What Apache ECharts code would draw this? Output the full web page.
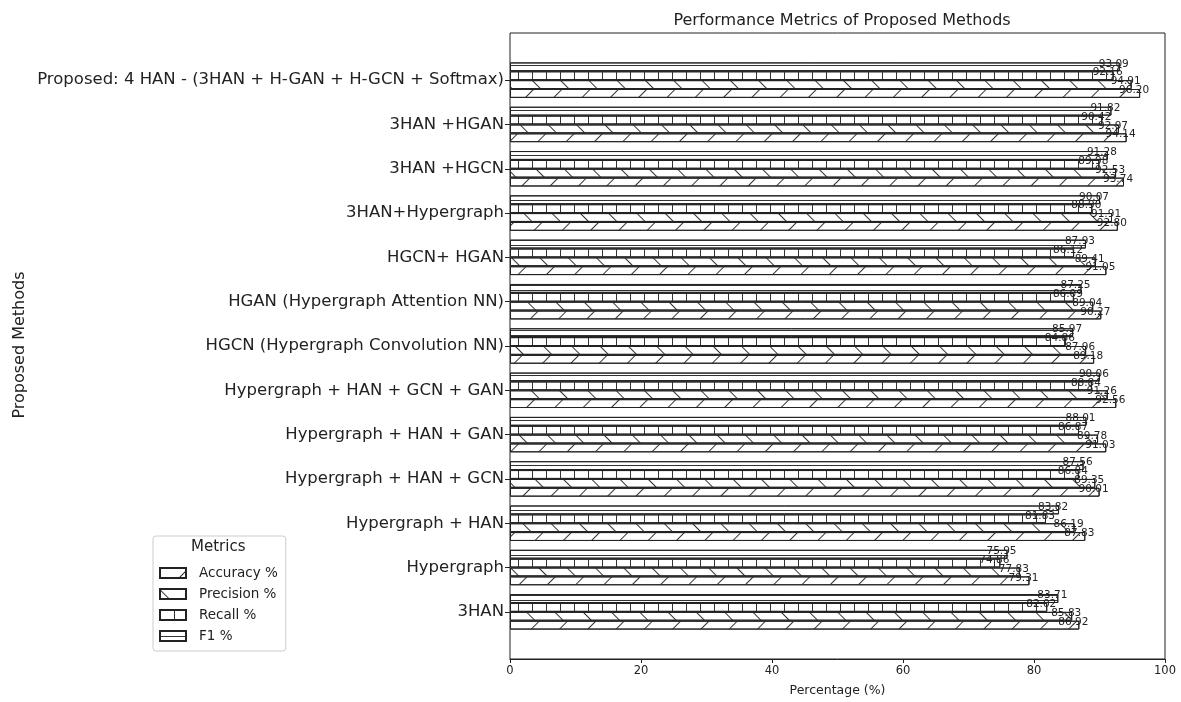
<!DOCTYPE html>
<html>
<head>
<meta charset="utf-8">
<script src="https://cdn.jsdelivr.net/npm/echarts@6/dist/echarts.min.js"></script>
<style>
  html, body { margin: 0; padding: 0; background: #fff; }
  #main { width: 1181px; height: 702px; }
</style>
</head>
<body>
<div id="main"></div>
<script>
// categories, bottom to top as drawn
const methods = [
  "3HAN",
  "Hypergraph",
  "Hypergraph + HAN",
  "Hypergraph + HAN + GCN",
  "Hypergraph + HAN + GAN",
  "Hypergraph + HAN + GCN + GAN",
  "HGCN (Hypergraph Convolution NN)",
  "HGAN (Hypergraph Attention NN)",
  "HGCN+ HGAN",
  "3HAN+Hypergraph",
  "3HAN +HGCN",
  "3HAN +HGAN",
  "Proposed: 4 HAN - (3HAN + H-GAN + H-GCN + Softmax)"
];
const accuracy = [86.92, 79.31, 87.83, 90.01, 91.03, 92.56, 89.18, 90.27, 91.05, 92.80, 93.74, 94.14, 96.20];
const precision = [85.83, 77.83, 86.19, 89.35, 89.78, 91.26, 87.96, 89.04, 89.41, 91.91, 92.53, 92.97, 94.91];
const recall = [82.02, 74.86, 81.83, 86.84, 86.87, 88.84, 84.86, 86.09, 86.12, 88.90, 89.98, 90.42, 92.16];
const f1 = [83.71, 75.95, 83.82, 87.56, 88.01, 90.06, 85.97, 87.25, 87.93, 90.07, 91.28, 91.82, 93.09];
const xTicks = [0, 20, 40, 60, 80, 100];

const font = "DejaVu Sans";

// hatch patterns
const hatch = {
  slash: { color: "#333", symbol: "rect", dashArrayX: [1, 0], dashArrayY: [1, 19], rotation: -Math.PI / 4 },
  back: { color: "#333", symbol: "rect", dashArrayX: [1, 0], dashArrayY: [1, 19], rotation: Math.PI / 4 },
  vert: { color: "#333", symbol: "rect", dashArrayX: [1, 13], dashArrayY: [1, 0] },
  horiz: { color: "#333", symbol: "rect", dashArrayX: [1, 0], dashArrayY: [1, 3.5] }
};

function barSeries(name, data, decal) {
  return {
    name: name,
    type: "bar",
    xAxisIndex: 1,
    yAxisIndex: 1,
    data: data,
    barWidth: "20%",
    barGap: "0%",
    itemStyle: { color: "#fff", borderColor: "#222", borderWidth: 1, decal: decal },
    label: {
      show: true,
      position: "right",
      distance: 0,
      offset: [-21, -3],
      fontFamily: font,
      fontSize: 10.5,
      color: "#222",
      formatter: p => p.value.toFixed(2)
    }
  };
}

let myChart = echarts.init(document.getElementById("main"));
myChart.setOption({
  animation: false,
  textStyle: { fontFamily: font },
  title: {
    text: "Performance Metrics of Proposed Methods",
    left: 837,
    textAlign: "center",
    top: 8,
    textStyle: { fontFamily: font, fontSize: 16, fontWeight: "normal", color: "#222" }
  },
  legend: {
    orient: "vertical",
    left: 153,
    top: 536,
    padding: [30, 8, 8, 6],
    borderColor: "#ccc",
    borderWidth: 1,
    borderRadius: 3,
    icon: "rect",
    itemWidth: 26,
    itemHeight: 10,
    itemGap: 7,
    data: ["Accuracy %", "Precision %", "Recall %", "F1 %"],
    textStyle: { fontFamily: font, fontSize: 13.5, color: "#222", padding: [0, 0, 0, 8] }
  },
  graphic: [
    {
      type: "text",
      left: 191,
      top: 540,
      style: { text: "Metrics", font: "15px DejaVu Sans", fill: "#222" }
    },
    {
      type: "text",
      x: 20,
      y: 345,
      rotation: Math.PI / 2,
      style: {
        text: "Proposed Methods",
        font: "16px DejaVu Sans",
        fill: "#222",
        textAlign: "center",
        textVerticalAlign: "middle"
      }
    }
  ],
  grid: [
    { left: 510, right: 16, top: 33, bottom: 42, show: true, borderColor: "#222", borderWidth: 1, backgroundColor: "transparent" },
    { left: 510, right: 16, top: 58, bottom: 68 }
  ],
  xAxis: [
    {
      gridIndex: 0,
      type: "value",
      min: 0,
      max: 100,
      interval: 20,
      splitLine: { show: false },
      axisLine: { show: true, lineStyle: { color: "#222" } },
      axisTick: { show: true, length: 4, lineStyle: { color: "#222" } },
      axisLabel: { fontFamily: font, fontSize: 11.5, color: "#222", margin: 6 },
      name: "Percentage (%)",
      nameLocation: "middle",
      nameGap: 25,
      nameTextStyle: { fontFamily: font, fontSize: 12.5, color: "#222" }
    },
    {
      gridIndex: 1,
      type: "value",
      min: 0,
      max: 100,
      show: false,
      splitLine: { show: false }
    }
  ],
  yAxis: [
    {
      gridIndex: 0,
      type: "value",
      show: false,
      splitLine: { show: false }
    },
    {
      gridIndex: 1,
      type: "category",
      data: methods,
      axisLine: { show: false },
      axisTick: { show: true, alignWithLabel: true, length: 5, lineStyle: { color: "#222" } },
      axisLabel: { fontFamily: font, fontSize: 16.5, color: "#222", margin: 6 }
    }
  ],
  series: [
    barSeries("F1 %", f1, hatch.horiz),
    barSeries("Recall %", recall, hatch.vert),
    barSeries("Precision %", precision, hatch.back),
    barSeries("Accuracy %", accuracy, hatch.slash)
  ]
});
</script>
</body>
</html>
